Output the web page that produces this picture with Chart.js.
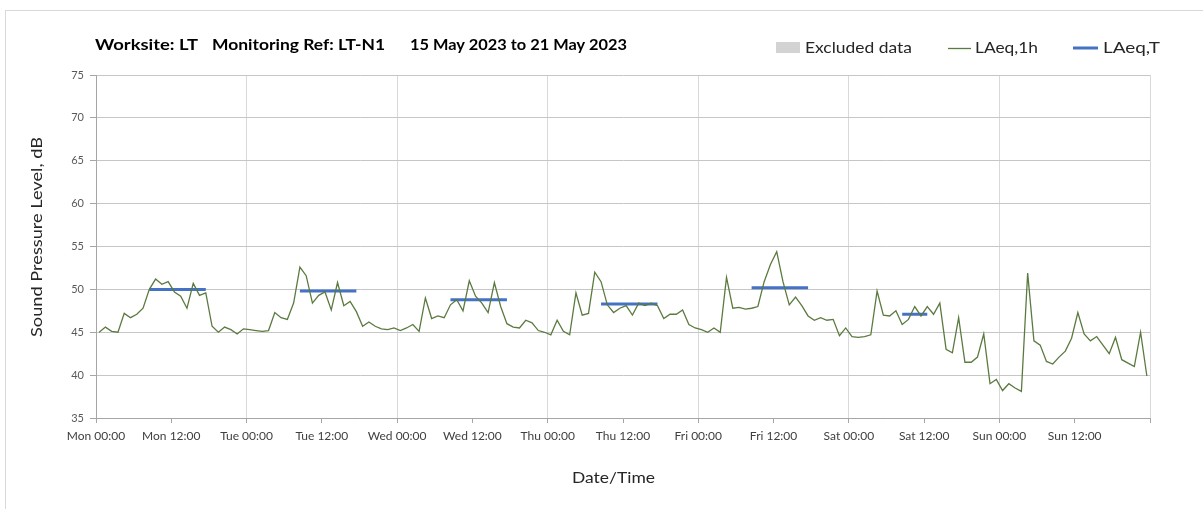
<!DOCTYPE html>
<html><head><meta charset="utf-8">
<script src="https://cdn.jsdelivr.net/npm/chart.js@4/dist/chart.umd.min.js"></script>
<style>html,body{margin:0;padding:0;background:#fff;} canvas{display:block;}</style>
</head><body>
<canvas id="c" width="1203" height="509"></canvas>
<script>
const tickLabels = ['Mon 00:00','Mon 12:00','Tue 00:00','Tue 12:00','Wed 00:00','Wed 12:00','Thu 00:00','Thu 12:00','Fri 00:00','Fri 12:00','Sat 00:00','Sat 12:00','Sun 00:00','Sun 12:00'];
const laeq1h = [
 45.0,45.6,45.1,45.0,47.2,46.7,47.1,47.8,50.0,51.2,50.6,50.9,49.7,49.2,47.8,50.7,49.3,49.6,45.7,45.0,45.6,45.3,44.8,45.4,
 45.3,45.2,45.1,45.2,47.3,46.7,46.5,48.4,52.6,51.6,48.4,49.3,49.7,47.6,50.8,48.1,48.6,47.4,45.7,46.2,45.7,45.4,45.3,45.5,
 45.2,45.5,45.9,45.1,49.0,46.6,46.9,46.7,48.2,48.8,47.5,51.0,49.2,48.4,47.3,50.8,48.0,46.0,45.6,45.5,46.4,46.1,45.2,45.0,
 44.7,46.4,45.1,44.7,49.6,47.0,47.2,52.0,50.9,48.2,47.3,47.8,48.1,47.0,48.4,48.1,48.4,48.1,46.6,47.1,47.1,47.6,45.9,45.5,
 45.3,45.0,45.5,45.0,51.4,47.8,47.9,47.7,47.8,48.0,50.9,52.9,54.4,50.9,48.2,49.1,48.1,46.9,46.4,46.7,46.4,46.5,44.6,45.5,
 44.5,44.4,44.5,44.7,49.8,47.0,46.9,47.5,45.9,46.5,48.0,46.9,48.0,47.1,48.4,43.0,42.6,46.7,41.5,41.5,42.1,44.8,39.0,39.5,
 38.2,39.0,38.5,38.1,51.9,44.0,43.5,41.6,41.3,42.1,42.8,44.3,47.3,44.8,44.0,44.5,43.5,42.5,44.4,41.8,41.4,41.0,45.0,39.9
];
const ltStart = [8.5, 32.5, 56.5, 80.5, 104.5, 128.5];
const ltEnd   = [17.5, 41.5, 65.5, 89.5, 113.5, 132.5];
const ltLevel = [50.0, 49.8, 48.8, 48.3, 50.2, 47.1];
const titleParts = ['Worksite: LT', 'Monitoring Ref: LT-N1', '15 May 2023 to 21 May 2023'];
const xTitle = 'Date/Time';
const yTitle = 'Sound Pressure Level, dB';

const lineData = laeq1h.map((v, i) => ({x: i + 0.5, y: v}));
const ltData = [];
ltStart.forEach((s, k) => {
  ltData.push({x: s, y: ltLevel[k]}, {x: ltEnd[k], y: ltLevel[k]}, {x: ltEnd[k], y: null});
});

function fitText(ctx, text, x, y, width, font, color, rot) {
  ctx.save();
  ctx.font = font;
  ctx.fillStyle = color;
  ctx.textBaseline = 'middle';
  ctx.textAlign = 'left';
  const w = ctx.measureText(text).width;
  ctx.translate(x, y);
  if (rot) ctx.rotate(rot);
  ctx.scale(width / w, 1);
  ctx.fillText(text, 0, 0);
  ctx.restore();
}

const decor = {
  id: 'decor',
  beforeDraw(chart) {
    const ctx = chart.ctx;
    ctx.save();
    ctx.fillStyle = '#fff';
    ctx.fillRect(0, 0, chart.width, chart.height);
    ctx.strokeStyle = '#d9d9d9';
    ctx.lineWidth = 1;
    ctx.strokeRect(5.5, 10.5, 1300, 600);
    ctx.restore();
  },
  afterDraw(chart) {
    const ctx = chart.ctx;
    const tf = 'bold 15px Lato';
    fitText(ctx, titleParts[0], 95, 45, 103, tf, '#000');
    fitText(ctx, titleParts[1], 212, 45, 173, tf, '#000');
    fitText(ctx, titleParts[2], 410, 45, 217, tf, '#000');
    const ds = chart.data.datasets;
    const lf = '15px Lato';
    ctx.save();
    ctx.fillStyle = ds[0].backgroundColor;
    ctx.fillRect(776, 42, 24, 11);
    ctx.strokeStyle = ds[1].borderColor;
    ctx.lineWidth = 1.3;
    ctx.beginPath(); ctx.moveTo(948, 48.5); ctx.lineTo(971, 48.5); ctx.stroke();
    ctx.strokeStyle = ds[2].borderColor;
    ctx.lineWidth = 3;
    ctx.beginPath(); ctx.moveTo(1073, 48); ctx.lineTo(1098, 48); ctx.stroke();
    ctx.restore();
    fitText(ctx, ds[0].label, 805, 48, 107, lf, '#262626');
    fitText(ctx, ds[1].label, 975, 48, 63, lf, '#262626');
    fitText(ctx, ds[2].label, 1103, 48, 57, lf, '#262626');
    fitText(ctx, xTitle, 572, 478, 83, '15px Lato', '#262626');
    fitText(ctx, yTitle, 37, 337, 200, '15px Lato', '#262626', -Math.PI / 2);
  }
};

new Chart(document.getElementById('c'), {
  type: 'line',
  data: {
    datasets: [
      {type: 'bar', label: 'Excluded data', data: [], backgroundColor: '#d3d3d3'},
      {label: 'LAeq,1h', data: lineData, borderColor: '#5b7a3f', borderWidth: 1.3, pointRadius: 0, tension: 0, fill: false},
      {label: 'LAeq,T', data: ltData, borderColor: '#4472c4', borderWidth: 3, pointRadius: 0, tension: 0, fill: false, spanGaps: false}
    ]
  },
  options: {
    responsive: false,
    animation: false,
    layout: {padding: {top: 75, right: 53, bottom: 0, left: 0}},
    plugins: {legend: {display: false}, title: {display: false}, tooltip: {enabled: false}},
    scales: {
      x: {
        type: 'linear', min: 0, max: 168, offset: false,
        afterBuildTicks: s => { s.ticks = [...tickLabels, ''].map((_, i) => ({value: i * 12})); },
        afterFit: s => { s.height = 91; },
        border: {display: true, color: '#a6a6a6'},
        grid: {
          offset: false,
          color: c => (c.tick && c.tick.value % 24 === 0) ? '#d9d9d9' : 'rgba(0,0,0,0)',
          tickColor: '#a6a6a6', tickLength: 5, drawTicks: true
        },
        ticks: {
          autoSkip: false, maxRotation: 0, minRotation: 0, padding: 6, color: '#404040',
          font: {family: 'Lato', size: 12},
          callback: v => tickLabels[Math.round(v / 12)] ?? ''
        }
      },
      y: {
        min: 35, max: 75,
        afterFit: s => { s.width = 96; },
        border: {display: true, color: '#a6a6a6'},
        grid: {color: '#c6c6c6', tickColor: '#a6a6a6', tickLength: 6},
        ticks: {stepSize: 5, padding: 6, color: '#595959', font: {family: 'Lato', size: 11}}
      }
    }
  },
  plugins: [decor]
});
</script>
</body></html>
